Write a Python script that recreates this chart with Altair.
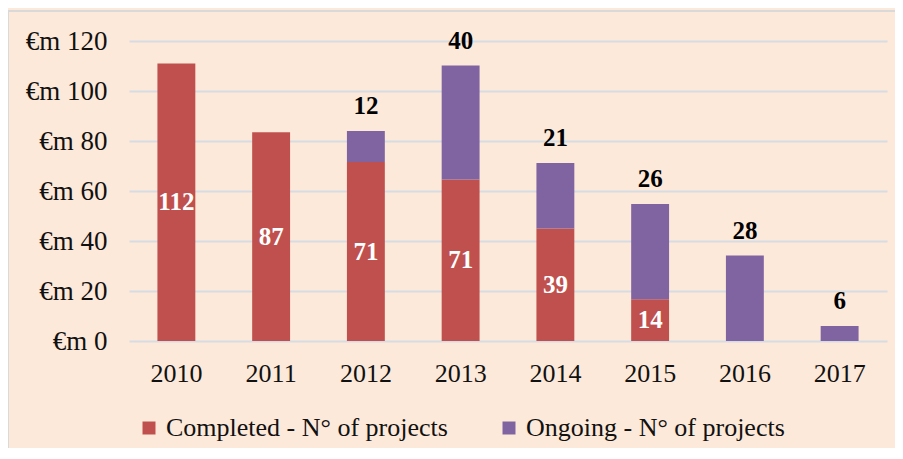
import altair as alt
import pandas as pd

years = ["2010", "2011", "2012", "2013", "2014", "2015", "2016", "2017"]
completed_eur = [111.0, 83.5, 71.6, 64.6, 45.0, 16.7, 0.0, 0.0]
ongoing_eur = [0.0, 0.0, 12.4, 45.6, 26.2, 38.1, 34.2, 6.0]
completed_n = [112, 87, 71, 71, 39, 14, None, None]
ongoing_n = [None, None, 12, 40, 21, 26, 28, 6]
series = ["Completed - N° of projects", "Ongoing - N° of projects"]
colors = ["#C0504D", "#8064A2"]
y_ticks = [0, 20, 40, 60, 80, 100, 120]

rows = []
for i, yr in enumerate(years):
    if completed_eur[i] > 0:
        rows.append({"year": yr, "series": series[0], "order": 0, "value": completed_eur[i]})
    if ongoing_eur[i] > 0:
        rows.append({"year": yr, "series": series[1], "order": 1, "value": ongoing_eur[i]})
long_df = pd.DataFrame(rows)

comp_lab = pd.DataFrame([
    {"year": yr, "mid": completed_eur[i] / 2, "label": str(completed_n[i])}
    for i, yr in enumerate(years) if completed_n[i] is not None
])
ong_lab = pd.DataFrame([
    {"year": yr, "top": completed_eur[i] + ongoing_eur[i], "label": str(ongoing_n[i])}
    for i, yr in enumerate(years) if ongoing_n[i] is not None
])

FONT = "Liberation Serif"

x_enc = alt.X("year:N", sort=years, title=None,
              scale=alt.Scale(paddingInner=0.6, paddingOuter=0.3),
              axis=alt.Axis(labelAngle=0, labelFont=FONT, labelFontSize=26,
                            labelColor="#111111", ticks=False, tickSize=0,
                            domain=False, labelPadding=32, labelBaseline="middle"))

frame = alt.Chart(alt.Data(values=[{}])).mark_rect(
    fillOpacity=0, stroke="#D9D9D9", strokeWidth=2
).encode(x=alt.value(-121), x2=alt.value(800), y=alt.value(-30), y2=alt.value(460))

bars = alt.Chart(long_df).mark_bar().encode(
    x=x_enc,
    y=alt.Y("value:Q", stack="zero", title=None,
            scale=alt.Scale(domain=[0, 120], nice=False),
            axis=alt.Axis(values=y_ticks, labelExpr="'€m ' + datum.value",
                          labelFont=FONT, labelFontSize=27, labelColor="#111111",
                          ticks=False, tickSize=0, domain=False, labelPadding=22,
                          grid=True, gridColor="#D6DCE4", gridWidth=2)),
    color=alt.Color("series:N", scale=alt.Scale(domain=series, range=colors),
                    legend=alt.Legend(title=None, orient="none", direction="horizontal",
                                      legendX=7, legendY=374, symbolType="square",
                                      symbolSize=169, symbolStrokeWidth=0,
                                      labelFont=FONT, labelFontSize=26, labelLimit=0,
                                      labelColor="#111111", labelOffset=4,
                                      columnPadding=48, padding=0)),
    order=alt.Order("order:Q"),
)

t_comp = alt.Chart(comp_lab).mark_text(
    font=FONT, fontSize=25, fontWeight="bold", color="white", baseline="middle"
).encode(x=alt.X("year:N", sort=years), y=alt.Y("mid:Q"), text="label:N")

t_ong = alt.Chart(ong_lab).mark_text(
    font=FONT, fontSize=25, fontWeight="bold", color="black", baseline="middle", dy=-25
).encode(x=alt.X("year:N", sort=years), y=alt.Y("top:Q"), text="label:N")

chart = alt.layer(bars, t_comp, t_ong, frame).properties(
    width=758, height=300,
    autosize=alt.AutoSizeParams(type="none"),
    padding={"left": 121, "top": 33, "right": 8, "bottom": 107},
    background="#FDE9DA",
).configure(font=FONT).configure_view(stroke=None)

chart.save("out.html", embed_options={"renderer": "svg", "actions": False})
